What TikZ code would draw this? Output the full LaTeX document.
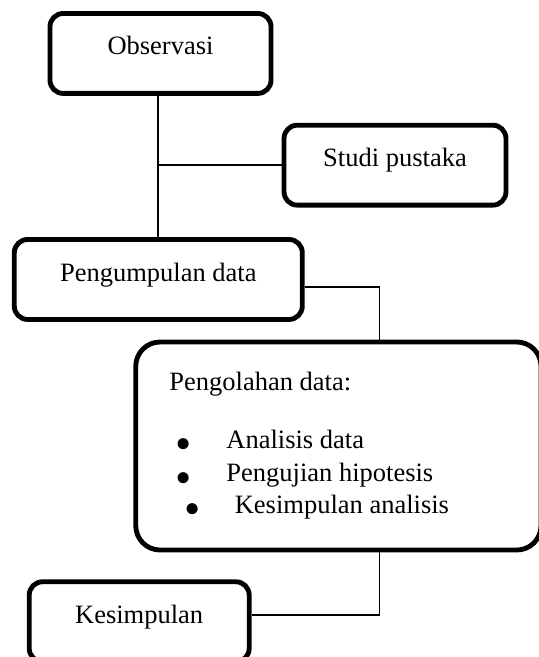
\documentclass[tikz,border=0pt]{standalone}
\usepackage{fontspec}
\setmainfont{Liberation Serif}
\usetikzlibrary{calc}
\tikzset{
  kotak/.style      = {draw,line width=2.2pt,rounded corners=6pt,inner sep=0pt,
                       text height=18.8pt,text depth=17.4pt,anchor=base},
  kotakbesar/.style = {draw,line width=2.2pt,rounded corners=11pt,inner sep=0pt,
                       minimum width=183.5pt,minimum height=94.2pt},
  garis/.style      = {line width=0.8pt},
  teks/.style       = {inner sep=0pt,anchor=base west},
}
\newcommand{\butir}{\makebox[21.4pt][l]{\hspace{-1.6pt}%
  \raisebox{-5.2pt}[0pt][0pt]{\fontsize{21}{21}\selectfont\textbullet}}}

\begin{document}
\begin{tikzpicture}[x=0.4528pt,y=-0.4528pt,font=\fontsize{12}{14.7}\selectfont]
  \useasboundingbox (0,0) rectangle (538,657);

  % kotak tahapan
  \node[kotak,minimum width=100.1pt] (obs) at (160.5,55) {Observasi};
  \node[kotak,minimum width=100.5pt] (studi) at (395,166.7) {Studi pustaka};
  \node[kotak,minimum width=130.4pt] (peng) at (158.3,281) {Pengumpulan data};
  \node[kotakbesar] (olah) at (338.4,446) {};
  \node[kotak,minimum width=99.6pt] (kes) at (139.2,623.3) {Kesimpulan};

  % isi pengolahan data
  \node[teks] (olahjudul) at (169,390) {Pengolahan data:};
  \node[teks] (butir1) at (178.7,448) {\butir Analisis data};
  \node[teks] (butir2) at (178.7,481.7) {\butir Pengujian hipotesis};
  \node[teks] (butir3) at (187.1,513) {\butir Kesimpulan analisis};

  % garis penghubung
  \draw[garis] (peng.north) -- (peng.north |- obs.south);
  \draw[garis] (studi.west) -- (studi.west -| peng.north);
  \coordinate (belok1) at (379.5,286.7);
  \draw[garis] (peng.east |- belok1) -| (olah.north -| belok1);
  \coordinate (belok2) at (379.5,615);
  \draw[garis] (olah.south -| belok2) |- (kes.east |- belok2);
\end{tikzpicture}
\end{document}
